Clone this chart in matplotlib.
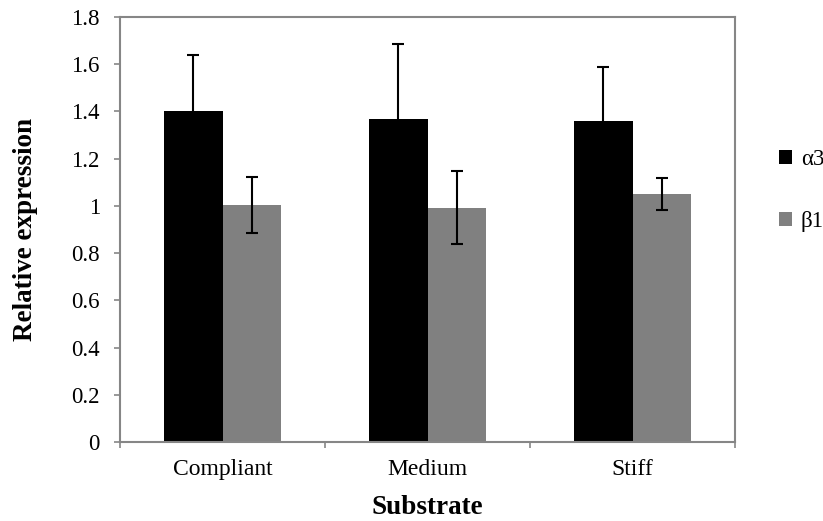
import numpy as np
import matplotlib.pyplot as plt

plt.rcParams['font.family'] = ['Liberation Serif', 'DejaVu Serif']

categories = ['Compliant', 'Medium', 'Stiff']
alpha3 = [1.40, 1.367, 1.361]
alpha3_err = [0.237, 0.318, 0.226]
beta1 = [1.004, 0.993, 1.051]
beta1_err = [0.119, 0.155, 0.068]
yticks = [0, 0.2, 0.4, 0.6, 0.8, 1, 1.2, 1.4, 1.6, 1.8]

fig = plt.figure(figsize=(8.23, 5.21), dpi=100)
# axes box: left spine x=120, right 735, bottom y=442, top 17 (pixels)
ax = fig.add_axes([120/823, 1 - 442/521, 615/823, 425/521])

x = np.arange(len(categories))
w = 0.286
ekw = dict(ecolor='black', elinewidth=1.5, capsize=4.3, capthick=1.5)
ax.bar(x - w/2, alpha3, w, color='black', yerr=alpha3_err, error_kw=ekw, label='\u03b13', zorder=2)
ax.bar(x + w/2, beta1, w, color='#808080', yerr=beta1_err, error_kw=ekw, label='\u03b21', zorder=2)

ax.set_xlim(-0.5, len(categories) - 0.5)
ax.set_ylim(0, 1.8)
ax.set_yticks(yticks)
ax.set_yticklabels(['%g' % v for v in yticks])
ax.set_xticks(x)
ax.set_xticklabels(categories)
ax.set_xticks(np.arange(len(categories) + 1) - 0.5, minor=True)
ax.tick_params(axis='x', which='major', length=0, pad=12, labelsize=17)
ax.tick_params(axis='x', which='minor', length=4.5, color='#868686', width=1.2)
ax.tick_params(axis='y', length=4.5, color='#868686', width=1.2, pad=10, labelsize=16.5)

for s in ax.spines.values():
    s.set_color('#868686')
    s.set_linewidth(1.5)

ax.set_xlabel('Substrate', fontsize=19.5, fontweight='bold', labelpad=11)
ax.set_ylabel('Relative expression', fontsize=19.5, fontweight='bold', labelpad=24)

leg = ax.legend(loc='upper left', bbox_to_anchor=(779/823, 1 - 149/521), bbox_transform=fig.transFigure,
                frameon=False, fontsize=16.5, handlelength=0.55, handleheight=0.55,
                handletextpad=0.4, labelspacing=1.8, borderpad=0, borderaxespad=0)

fig.savefig('out.png', dpi=100)
